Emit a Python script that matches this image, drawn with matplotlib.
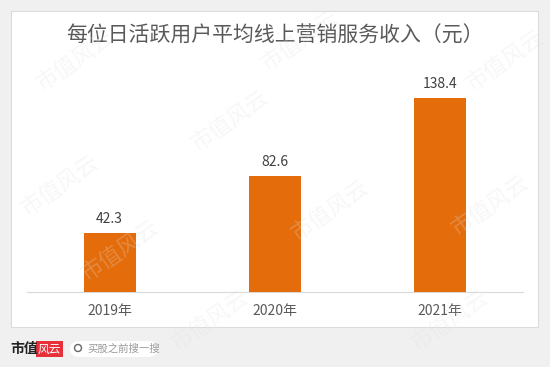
import matplotlib.pyplot as plt
from matplotlib.patches import FancyBboxPatch, Rectangle, Ellipse

plt.rcParams['font.family'] = ['Noto Sans CJK SC', 'DejaVu Sans']

title = "每位日活跃用户平均线上营销服务收入（元）"
years = ["2019年", "2020年", "2021年"]
revenue = [42.3, 82.6, 138.4]

W, H = 550, 367
fig = plt.figure(figsize=(5.5, 3.67), dpi=100)
fig.patch.set_facecolor('#f0f0f0')

# white card behind the axes
card = Rectangle((11 / W, 1 - 327 / H), (538 - 11) / W, (327 - 11) / H,
                 transform=fig.transFigure, facecolor='white',
                 edgecolor='#dcdcdc', lw=0.8, zorder=-10)
fig.patches.append(card)

# plot area: baseline at y=292, x from 27 to 523, 1.4 px per unit
ax = fig.add_axes([27 / W, 1 - 292 / H, (523 - 27) / W, 224 / H])
ax.set_facecolor('none')
x = range(len(years))
ax.bar(x, revenue, width=52 / 165, color='#e46c0a', zorder=3)
ax.set_xlim(-0.5, len(years) - 0.5)
ax.set_ylim(0, 160)
for i, v in zip(x, revenue):
    ax.text(i, v + 10, f"{v}", ha='center', va='center', fontsize=10,
            color='#404040')
ax.set_xticks(list(x))
ax.set_xticklabels(years, fontsize=10, color='#595959')
ax.tick_params(axis='x', length=0, pad=9)
ax.set_yticks([])
for s in ['top', 'right', 'left']:
    ax.spines[s].set_visible(False)
ax.spines['bottom'].set_color('#d9d9d9')

fig.text(275 / W, 1 - 36 / H, title, ha='center', va='center',
         fontsize=15, color='#595959')

# watermarks
marks = [(75, 60), (300, 40), (505, 60), (120, 250), (330, 210),
         (490, 205), (210, 320), (450, 320), (60, 185), (230, 120)]
for mx, my in marks:
    fig.text(mx / W, 1 - my / H, "市值风云", ha='center', va='center',
             rotation=35, fontsize=16, color='#e0e0e0', alpha=0.25,
             fontweight='light', zorder=5)

# bottom logo
fig.text(10 / W, 1 - 349 / H, "市值", ha='left', va='center', fontsize=10,
         fontweight='bold', color='#222222')
fig.patches.append(Rectangle((36 / W, 1 - 357 / H), 27 / W, 16 / H,
                             transform=fig.transFigure, facecolor='#e8303a',
                             edgecolor='none'))
fig.text(49.5 / W, 1 - 349 / H, "风云", ha='center', va='center',
         fontsize=8.5, color='white', style='italic')
fig.patches.append(FancyBboxPatch((70 / W, 1 - 357 / H), 88 / W, 16 / H,
                                  boxstyle='round,pad=0,rounding_size=0.02',
                                  transform=fig.transFigure,
                                  facecolor='white', edgecolor='none'))
fig.patches.append(Ellipse((78 / W, 1 - 348 / H), 7 / W, 7 / H,
                           transform=fig.transFigure, facecolor='none',
                           edgecolor='#666666', lw=1))
fig.text(87 / W, 1 - 349 / H, "买股之前搜一搜", ha='left', va='center',
         fontsize=7.5, color='#999999')

fig.savefig('out.png', dpi=100, facecolor=fig.get_facecolor())
